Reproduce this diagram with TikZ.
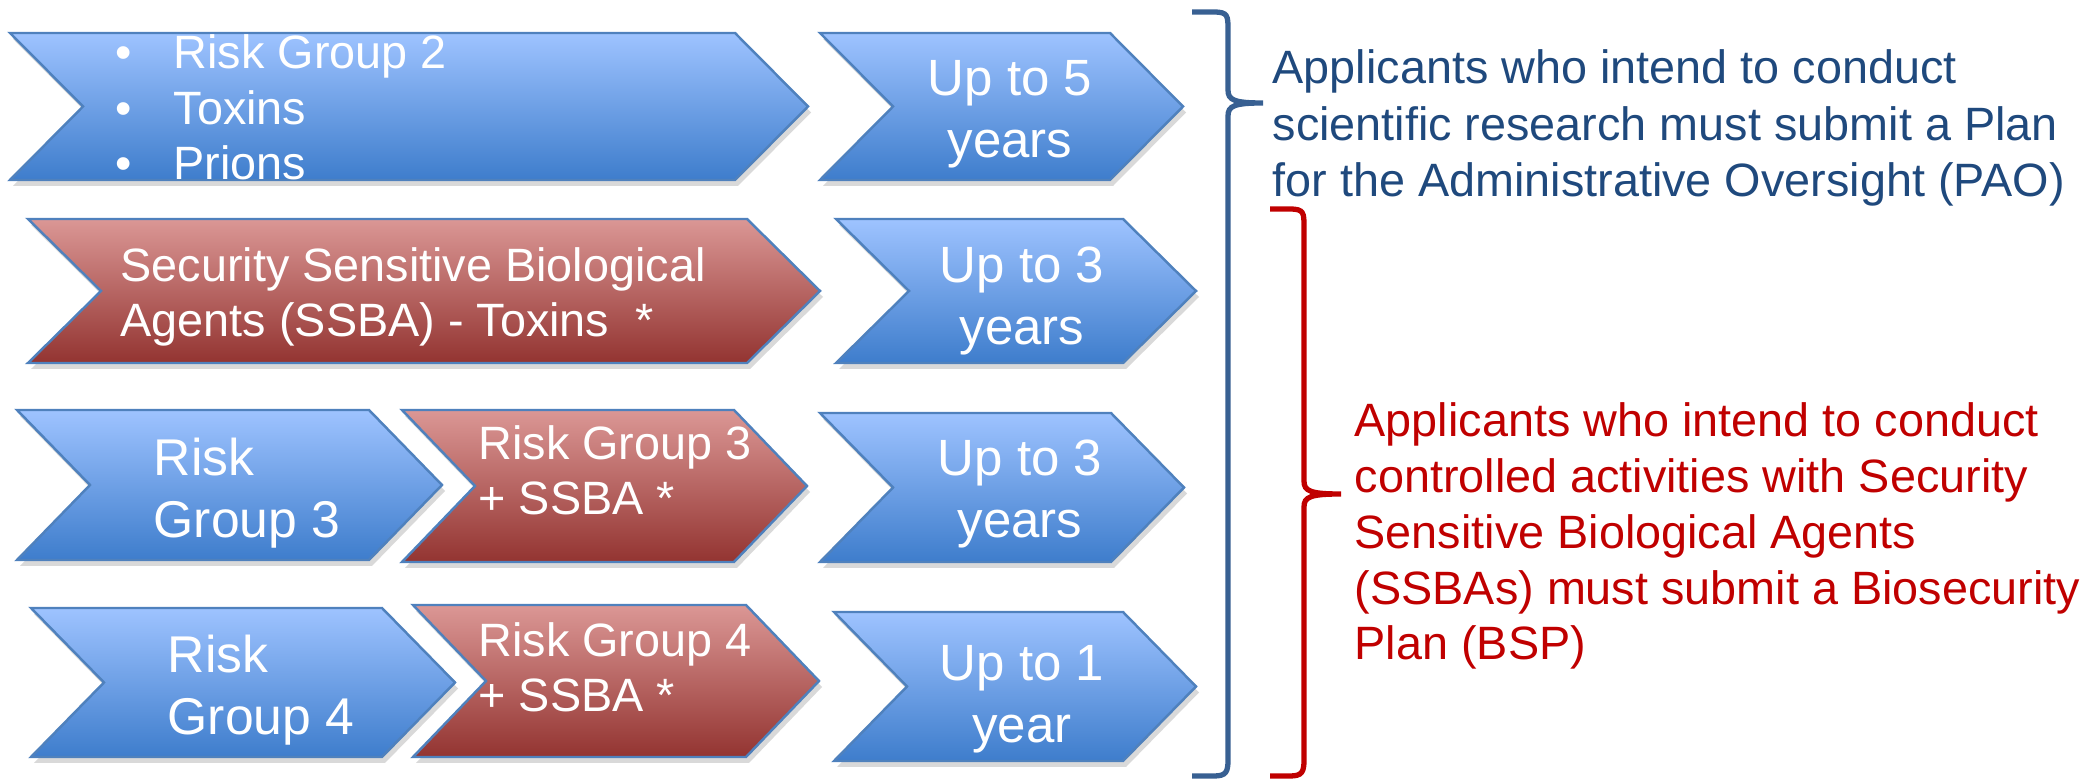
\documentclass[tikz,border=0pt]{standalone}
\usepackage{fontspec}
\setmainfont{Liberation Sans}
\definecolor{chevtop}{RGB}{158,195,255}
\definecolor{chevbot}{RGB}{62,125,204}
\definecolor{redtop}{RGB}{219,151,149}
\definecolor{redbot}{RGB}{147,52,49}
\definecolor{chevline}{RGB}{79,129,189}
\definecolor{paoblue}{RGB}{31,73,125}
\definecolor{braceblue}{RGB}{56,96,146}
\definecolor{bspred}{RGB}{192,0,0}
% chevron: style, left x, tip x, top y, bottom y
\newcommand{\chevron}[5]{%
  \fill[black, opacity=0.15, shift={(3,6)}] (#2,#4) -- ({#3-73},#4) -- (#3,{(#4+#5)/2}) -- ({#3-73},#5) -- (#2,#5) -- ({#2+73},{(#4+#5)/2}) -- cycle;
  \filldraw[#1] (#2,#4) -- ({#3-73},#4) -- (#3,{(#4+#5)/2}) -- ({#3-73},#5) -- (#2,#5) -- ({#2+73},{(#4+#5)/2}) -- cycle;}
\tikzset{
x=0.01cm, y=-0.01cm, % one unit is one pixel of the slide
bluechev/.style={draw=chevline, line width=0.7pt, top color=chevtop, bottom color=chevbot}, % blue arrow boxes
redchev/.style={draw=chevline, line width=0.7pt, top color=redtop, bottom color=redbot}, % SSBA arrow boxes
chevtext/.style={text=white, inner sep=0pt, align=left, anchor=base west, font=\fontsize{13.3}{15.7}\selectfont},
yeartext/.style={text=white, inner sep=0pt, align=center, anchor=base, font=\fontsize{14.5}{17.7}\selectfont},
grouptext/.style={text=white, inner sep=0pt, align=left, anchor=base west, font=\fontsize{14.7}{17.9}\selectfont},
paotext/.style={text=paoblue, inner sep=0pt, align=left, anchor=base west, font=\fontsize{13.3}{16.2}\selectfont},
bsptext/.style={text=bspred, inner sep=0pt, align=left, anchor=base west, font=\fontsize{13.3}{15.9}\selectfont},
}
\begin{document}
\begin{tikzpicture}
    \useasboundingbox (0,0) rectangle (2082,780);
    % row 1 (text nodes sit on the baseline of their last line)
    \chevron{bluechev}{10}{808}{33}{180}
    \chevron{bluechev}{820}{1183}{33}{180}
    \node[chevtext, font=\fontsize{13.3}{15.9}\selectfont] (rg2) at (115,180)
      {\makebox[0.58cm][l]{\textbullet}Risk Group 2\\\makebox[0.58cm][l]{\textbullet}Toxins\\\makebox[0.58cm][l]{\textbullet}Prions};
    \node[yeartext] (y5) at (1010,158) {Up to 5\\years};
    % row 2
    \chevron{redchev}{28}{820}{219}{363}
    \chevron{bluechev}{836}{1196}{219}{363}
    \node[chevtext] (ssba) at (120,337) {Security Sensitive Biological\\Agents (SSBA) - Toxins\ \ *};
    \node[yeartext] (y3a) at (1022,345) {Up to 3\\years};
    % row 3
    \chevron{bluechev}{17}{442}{410}{560}
    \chevron{redchev}{402}{807}{410}{562}
    \chevron{bluechev}{820}{1184}{413}{562}
    \node[grouptext] (rg3) at (153,538) {Risk\\Group 3};
    \node[chevtext] (rg3s) at (478,515) {Risk Group 3\\+ SSBA *};
    \node[yeartext] (y3b) at (1020,538) {Up to 3\\years};
    % row 4
    \chevron{bluechev}{31}{455}{608}{757}
    \chevron{redchev}{413}{819}{605}{757}
    \chevron{bluechev}{834}{1196}{612}{761}
    \node[grouptext] (rg4) at (167,735) {Risk\\Group 4};
    \node[chevtext] (rg4s) at (478,712) {Risk Group 4\\+ SSBA *};
    \node[yeartext] (y1) at (1022,743) {Up to 1\\year};
    % braces
    \draw[braceblue, line width=1.5pt] (1192,12) -- (1214,12) .. controls (1228,12) and (1228,16) .. (1228,30) -- (1228,90)
      .. controls (1228,100) and (1234,103) .. (1263,103) .. controls (1234,103) and (1228,106) .. (1228,116)
      -- (1228,760) .. controls (1228,772) and (1226,776) .. (1214,776) -- (1192,776);
    \draw[bspred, line width=1.5pt] (1270,209) -- (1290,209) .. controls (1304,209) and (1304,213) .. (1304,227) -- (1304,481)
      .. controls (1304,491) and (1310,494) .. (1341,494) .. controls (1310,494) and (1304,497) .. (1304,507)
      -- (1304,760) .. controls (1304,772) and (1302,776) .. (1290,776) -- (1270,776);
    \node[paotext] (pao) at (1272,197) {Applicants who intend to conduct\\scientific research must submit a Plan\\for the Administrative Oversight (PAO)};
    \node[bsptext] (bsp) at (1354,660) {Applicants who intend to conduct\\controlled activities with Security\\Sensitive Biological Agents\\(SSBAs) must submit a Biosecurity\\Plan (BSP)};
\end{tikzpicture}
\end{document}
